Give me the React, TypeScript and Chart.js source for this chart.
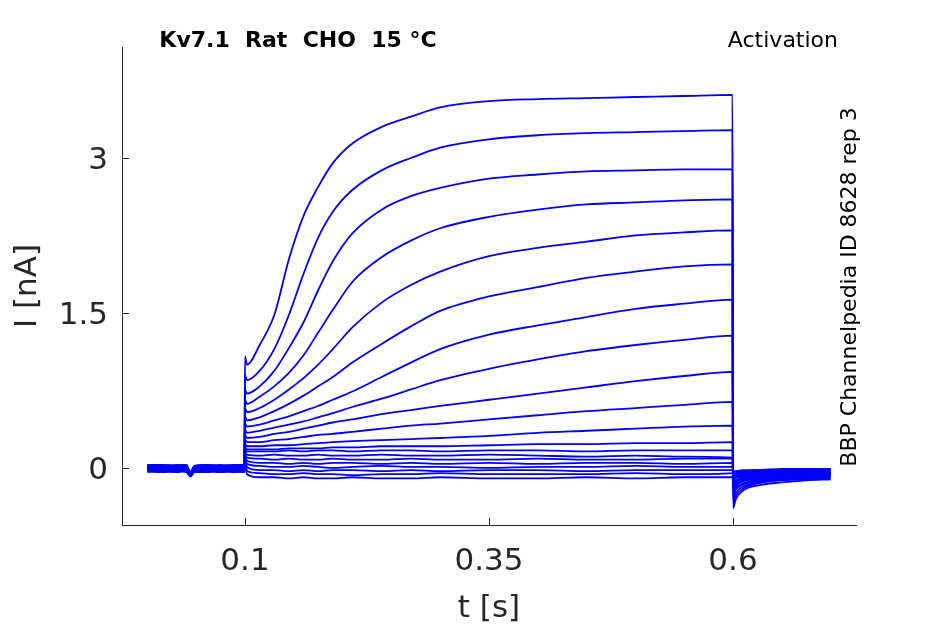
import { useEffect, useRef } from 'react';
import { Chart, ChartConfiguration, Plugin } from 'chart.js/auto';

// sample times [s]: holding, step (0.1-0.6 s), tail
const sweepTimes = [
  0, 0.015, 0.03, 0.04, 0.044, 0.048, 0.06, 0.075, 0.09, 0.0995,
  0.1, 0.102, 0.115, 0.13, 0.145, 0.16, 0.175, 0.19, 0.21, 0.24, 0.27, 0.3, 0.35, 0.4, 0.45, 0.5, 0.55, 0.5995,
  0.6, 0.603, 0.61, 0.625, 0.65, 0.675, 0.7,
];

// current [nA] per sweep
const sweep01 = [0.02, 0.01, 0.02, 0.01, -0.05, 0.0, 0.01, 0.02, 0.01, 0.02,
  1.08, 1.0, 1.19, 1.48, 2.02, 2.44, 2.72, 2.95, 3.14, 3.3, 3.4, 3.49, 3.55, 3.57, 3.58, 3.59, 3.6, 3.61,
  -0.39, -0.3, -0.22, -0.17, -0.14, -0.12, -0.11];
const sweep02 = [0.01, 0.02, 0.01, 0.0, -0.06, -0.01, 0.02, 0.01, 0.02, 0.01,
  0.9, 0.85, 0.94, 1.15, 1.48, 1.88, 2.23, 2.48, 2.69, 2.88, 3.0, 3.1, 3.18, 3.22, 3.24, 3.25, 3.26, 3.27,
  -0.34, -0.27, -0.2, -0.15, -0.12, -0.11, -0.1];
const sweep03 = [0.0, 0.01, 0.0, 0.01, -0.06, 0.0, 0.01, 0.0, 0.01, 0.0,
  0.76, 0.72, 0.79, 0.94, 1.16, 1.41, 1.72, 2.0, 2.27, 2.5, 2.63, 2.71, 2.8, 2.84, 2.87, 2.88, 2.89, 2.89,
  -0.3, -0.24, -0.18, -0.14, -0.11, -0.1, -0.09];
const sweep04 = [0.02, 0.0, 0.01, 0.0, -0.07, -0.01, 0.0, 0.01, 0.0, 0.01,
  0.66, 0.62, 0.69, 0.79, 0.92, 1.09, 1.31, 1.53, 1.8, 2.04, 2.2, 2.32, 2.43, 2.5, 2.55, 2.57, 2.59, 2.6,
  -0.26, -0.21, -0.16, -0.13, -0.1, -0.09, -0.08];
const sweep05 = [-0.01, 0.0, -0.01, 0.0, -0.07, -0.02, 0.0, -0.01, 0.0, -0.01,
  0.58, 0.54, 0.58, 0.66, 0.76, 0.87, 1.0, 1.15, 1.36, 1.6, 1.77, 1.9, 2.05, 2.13, 2.19, 2.25, 2.28, 2.3,
  -0.23, -0.19, -0.15, -0.12, -0.1, -0.09, -0.08];
const sweep06 = [0.03, 0.02, 0.03, 0.02, -0.04, 0.01, 0.02, 0.03, 0.02, 0.03,
  0.5, 0.46, 0.49, 0.55, 0.62, 0.7, 0.79, 0.88, 1.02, 1.2, 1.37, 1.52, 1.66, 1.75, 1.84, 1.9, 1.95, 1.97,
  -0.2, -0.17, -0.13, -0.11, -0.09, -0.08, -0.07];
const sweep07 = [0.0, -0.01, 0.0, -0.01, -0.08, -0.02, -0.01, 0.0, -0.01, 0.0,
  0.43, 0.4, 0.42, 0.46, 0.5, 0.55, 0.6, 0.66, 0.74, 0.88, 1.02, 1.15, 1.29, 1.38, 1.46, 1.54, 1.59, 1.63,
  -0.18, -0.15, -0.12, -0.1, -0.08, -0.07, -0.07];
const sweep08 = [-0.02, -0.01, -0.02, -0.01, -0.08, -0.03, -0.01, -0.02, -0.01, -0.02,
  0.37, 0.34, 0.36, 0.39, 0.42, 0.45, 0.49, 0.53, 0.59, 0.67, 0.76, 0.85, 0.96, 1.05, 1.13, 1.19, 1.24, 1.28,
  -0.16, -0.13, -0.11, -0.09, -0.08, -0.07, -0.06];
const sweep09 = [0.01, 0.0, 0.01, 0.0, -0.06, -0.01, 0.0, 0.01, 0.0, 0.0,
  0.32, 0.29, 0.3, 0.33, 0.35, 0.38, 0.41, 0.44, 0.47, 0.52, 0.56, 0.6, 0.66, 0.72, 0.78, 0.84, 0.89, 0.93,
  -0.14, -0.12, -0.1, -0.08, -0.07, -0.06, -0.06];
const sweep10 = [-0.03, -0.02, -0.03, -0.02, -0.08, -0.03, -0.02, -0.03, -0.02, -0.03,
  0.27, 0.25, 0.25, 0.27, 0.28, 0.3, 0.32, 0.33, 0.35, 0.38, 0.41, 0.43, 0.47, 0.51, 0.55, 0.58, 0.61, 0.64,
  -0.12, -0.1, -0.09, -0.07, -0.06, -0.06, -0.05];
const sweep11 = [0.02, 0.03, 0.02, 0.03, -0.05, 0.01, 0.03, 0.02, 0.03, 0.02,
  0.23, 0.21, 0.21, 0.22, 0.22, 0.23, 0.24, 0.25, 0.26, 0.27, 0.28, 0.29, 0.31, 0.34, 0.36, 0.38, 0.4, 0.41,
  -0.11, -0.09, -0.08, -0.07, -0.06, -0.05, -0.05];
const sweep12 = [-0.01, -0.02, -0.01, -0.02, -0.07, -0.03, -0.02, -0.01, -0.02, -0.01,
  0.2, 0.18, 0.18, 0.18, 0.19, 0.19, 0.19, 0.2, 0.2, 0.21, 0.21, 0.21, 0.22, 0.23, 0.23, 0.24, 0.24, 0.25,
  -0.1, -0.08, -0.07, -0.06, -0.05, -0.05, -0.04];
const sweep13 = [0.0, 0.01, 0.0, 0.0, -0.06, -0.01, 0.01, 0.0, 0.0, 0.01,
  0.18, 0.16, 0.16, 0.16, 0.17, 0.16, 0.17, 0.17, 0.16, 0.17, 0.17, 0.16, 0.17, 0.17, 0.16, 0.17, 0.17, 0.17,
  -0.09, -0.07, -0.06, -0.05, -0.05, -0.04, -0.04];
const sweep14 = [-0.04, -0.03, -0.04, -0.03, -0.08, -0.04, -0.03, -0.04, -0.03, -0.04,
  0.16, 0.13, 0.12, 0.13, 0.12, 0.12, 0.13, 0.12, 0.12, 0.13, 0.12, 0.12, 0.13, 0.12, 0.11, 0.12, 0.11, 0.1,
  -0.08, -0.06, -0.06, -0.05, -0.04, -0.04, -0.04];
const sweep15 = [0.01, 0.0, 0.02, 0.01, -0.05, 0.0, 0.0, 0.02, 0.01, 0.01,
  0.14, 0.1, 0.09, 0.08, 0.09, 0.08, 0.08, 0.09, 0.08, 0.08, 0.09, 0.08, 0.08, 0.09, 0.08, 0.08, 0.09, 0.09,
  -0.07, -0.06, -0.05, -0.04, -0.04, -0.03, -0.03];
const sweep16 = [-0.02, -0.03, -0.02, -0.03, -0.08, -0.03, -0.03, -0.02, -0.03, -0.02,
  0.12, 0.07, 0.05, 0.05, 0.04, 0.05, 0.04, 0.05, 0.05, 0.04, 0.05, 0.04, 0.05, 0.04, 0.05, 0.05, 0.04, 0.05,
  -0.06, -0.05, -0.04, -0.04, -0.03, -0.03, -0.03];
const sweep17 = [0.03, 0.03, 0.02, 0.03, -0.04, 0.02, 0.03, 0.02, 0.03, 0.03,
  0.1, 0.04, 0.02, 0.01, 0.01, 0.02, 0.01, 0.0, 0.01, 0.02, 0.01, 0.01, 0.0, 0.01, 0.01, 0.02, 0.01, 0.01,
  -0.05, -0.04, -0.04, -0.03, -0.03, -0.02, -0.02];
const sweep18 = [-0.01, -0.01, -0.02, -0.01, -0.07, -0.02, -0.01, -0.02, -0.01, -0.01,
  0.08, 0.01, -0.02, -0.02, -0.03, -0.02, -0.03, -0.02, -0.02, -0.03, -0.02, -0.03, -0.02, -0.02, -0.03, -0.02, -0.02, -0.02,
  -0.05, -0.04, -0.03, -0.03, -0.02, -0.02, -0.02];
const sweep19 = [0.0, 0.0, 0.01, 0.0, -0.06, -0.01, 0.0, 0.01, 0.0, 0.0,
  0.06, -0.03, -0.05, -0.06, -0.06, -0.05, -0.06, -0.06, -0.07, -0.06, -0.06, -0.05, -0.06, -0.06, -0.06, -0.05, -0.06, -0.05,
  -0.04, -0.04, -0.03, -0.02, -0.02, -0.02, -0.01];
const sweep20 = [-0.03, -0.04, -0.03, -0.04, -0.08, -0.04, -0.04, -0.03, -0.04, -0.03,
  0.05, -0.06, -0.09, -0.09, -0.1, -0.09, -0.1, -0.1, -0.09, -0.1, -0.1, -0.09, -0.1, -0.1, -0.09, -0.1, -0.09, -0.09,
  -0.03, -0.03, -0.02, -0.02, -0.01, -0.01, -0.01];

const sweeps = [
  sweep01, sweep02, sweep03, sweep04, sweep05, sweep06, sweep07, sweep08, sweep09, sweep10,
  sweep11, sweep12, sweep13, sweep14, sweep15, sweep16, sweep17, sweep18, sweep19, sweep20,
];

const xTicks = [0.1, 0.35, 0.6];
const yTicks = [0, 1.5, 3];

const titleText = 'Kv7.1  Rat  CHO  15 °C';
const protocolText = 'Activation';
const sourceText = 'BBP Channelpedia ID 8628 rep 3';

const AXIS_COLOR = '#262626';
const FONT = 'DejaVu Sans';

// MATLAB-style inward ticks plus the header / side labels
const decorations: Plugin<'line'> = {
  id: 'decorations',
  afterDraw(chart) {
    const { ctx, chartArea, scales } = chart;
    ctx.save();
    ctx.strokeStyle = AXIS_COLOR;
    ctx.lineWidth = 1;
    ctx.beginPath();
    xTicks.forEach(v => {
      const px = Math.round(scales.x.getPixelForValue(v)) + 0.5;
      ctx.moveTo(px, chartArea.bottom);
      ctx.lineTo(px, chartArea.bottom - 7);
    });
    yTicks.forEach(v => {
      const py = Math.round(scales.y.getPixelForValue(v)) + 0.5;
      ctx.moveTo(chartArea.left, py);
      ctx.lineTo(chartArea.left + 7, py);
    });
    ctx.stroke();

    ctx.fillStyle = '#000';
    ctx.textBaseline = 'alphabetic';
    ctx.font = `bold 22px "${FONT}"`;
    ctx.textAlign = 'center';
    ctx.fillText(titleText, 298, 47);

    ctx.font = `22px "${FONT}"`;
    ctx.textAlign = 'right';
    ctx.fillText(protocolText, 838, 47);

    ctx.translate(856, 287);
    ctx.rotate(-Math.PI / 2);
    ctx.textAlign = 'center';
    ctx.fillText(sourceText, 0, 0);
    ctx.restore();
  },
};

export default function App() {
  const canvasRef = useRef<HTMLCanvasElement>(null);
  const chartRef = useRef<Chart | null>(null);

  useEffect(() => {
    if (!canvasRef.current) return;
    if (chartRef.current) chartRef.current.destroy();

    const datasets = sweeps.map((sweep, i) => ({
      label: `sweep ${i + 1}`,
      data: sweepTimes.map((t, j) => ({ x: t, y: sweep[j] })),
      borderColor: 'rgb(0, 0, 255)',
      borderWidth: 1.8,
      pointRadius: 0,
      cubicInterpolationMode: 'monotone' as const,
      fill: false,
    }));

    const tickFont = { family: FONT, size: 31 };

    const config: ChartConfiguration<'line'> = {
      type: 'line',
      data: { datasets },
      options: {
        animation: false,
        responsive: false,
        maintainAspectRatio: false,
        devicePixelRatio: 1,
        layout: { padding: { top: 47, right: 89, left: 0, bottom: 0 } },
        plugins: {
          legend: { display: false },
          tooltip: { enabled: false },
        },
        scales: {
          x: {
            type: 'linear',
            min: -0.026,
            max: 0.726,
            afterFit: scale => { scale.height = 99; },
            afterBuildTicks: scale => { scale.ticks = xTicks.map(v => ({ value: v })); },
            grid: { display: false, drawTicks: false },
            border: { display: true, color: AXIS_COLOR, width: 1 },
            ticks: {
              color: AXIS_COLOR,
              font: tickFont,
              padding: 18,
              maxRotation: 0,
              autoSkip: false,
              callback: value => String(value),
            },
            title: {
              display: true,
              text: 't [s]',
              color: AXIS_COLOR,
              font: { family: FONT, size: 31, lineHeight: 0.95 },
              padding: { top: 0, bottom: 0 },
            },
          },
          y: {
            type: 'linear',
            min: -0.552,
            max: 4.074,
            afterFit: scale => { scale.width = 122; },
            afterBuildTicks: scale => { scale.ticks = yTicks.map(v => ({ value: v })); },
            grid: { display: false, drawTicks: false },
            border: { display: true, color: AXIS_COLOR, width: 1 },
            ticks: {
              color: AXIS_COLOR,
              font: tickFont,
              padding: 14,
              labelOffset: 3,
              autoSkip: false,
              callback: value => String(value),
            },
            title: {
              display: true,
              text: 'I [nA]',
              color: AXIS_COLOR,
              font: tickFont,
              padding: { top: 9, bottom: 0 },
            },
          },
        },
      },
      plugins: [decorations],
    };

    chartRef.current = new Chart(canvasRef.current, config);

    return () => {
      if (chartRef.current) {
        chartRef.current.destroy();
        chartRef.current = null;
      }
    };
  }, []);

  return (
    <div style={{ position: 'absolute', left: 0, top: 0, width: 945, height: 624, background: '#fff' }}>
      <canvas ref={canvasRef} width={945} height={624} style={{ width: 945, height: 624 }} />
    </div>
  );
}
